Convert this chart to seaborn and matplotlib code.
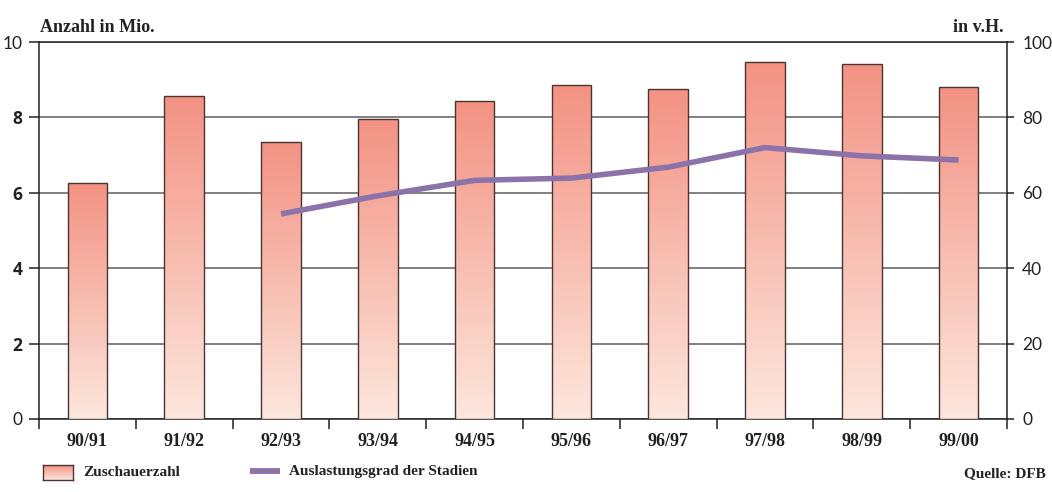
import numpy as np
import pandas as pd
import matplotlib
matplotlib.use("Agg")
import matplotlib.pyplot as plt
from matplotlib.colors import LinearSegmentedColormap
from matplotlib.lines import Line2D
import seaborn as sns

# ---- data ----
seasons = ["90/91", "91/92", "92/93", "93/94", "94/95", "95/96", "96/97", "97/98", "98/99", "99/00"]
zuschauer = [6.26, 8.57, 7.35, 7.96, 8.43, 8.86, 8.75, 9.47, 9.42, 8.81]   # Mio.
auslastung = [np.nan, np.nan, 54.4, 59.2, 63.3, 63.9, 66.8, 72.0, 69.8, 68.7]  # in v.H.
left_ticks = [0, 2, 4, 6, 8, 10]
right_ticks = [0, 20, 40, 60, 80, 100]

df = pd.DataFrame({"Saison": seasons, "Zuschauerzahl": zuschauer,
                   "Auslastung": auslastung, "pos": np.arange(len(seasons))})

sns.set_theme(style="white")
plt.rcParams["font.family"] = ["Liberation Serif", "DejaVu Sans"]

TOP_C = "#F39283"
BOT_C = "#FDE7DD"
EDGE_C = "#4a3434"
LINE_C = "#8B73A9"
grad_cmap = LinearSegmentedColormap.from_list("g", [BOT_C, TOP_C])

fig = plt.figure(figsize=(10.52, 4.92), dpi=100)
ax = fig.add_axes([0.0371, 0.1484, 0.9201, 0.7662])

sns.barplot(data=df, x="Saison", y="Zuschauerzahl", ax=ax, width=0.41,
            color=TOP_C, edgecolor=EDGE_C, linewidth=1.0, zorder=3)

# gradient fill for each bar
grad = np.linspace(1, 0, 256).reshape(-1, 1)
for p in ax.patches:
    x0, y0 = p.get_x(), p.get_y()
    w, h = p.get_width(), p.get_height()
    im = ax.imshow(grad, cmap=grad_cmap, vmin=0, vmax=1, aspect="auto",
                   extent=[x0, x0 + w, y0, y0 + h], zorder=3.5, interpolation="bicubic")
    im.set_clip_path(p)
    p.set_facecolor("none")
    p.set_zorder(4)

ax.set_xlim(-0.5, len(seasons) - 0.5)
ax.set_ylim(0, 10)
ax.set_yticks(left_ticks)
ax.yaxis.grid(True, color="#5e5e5e", linewidth=1.1, zorder=1)
ax.set_axisbelow(True)
ax.set_xlabel("")
ax.set_ylabel("")
for s in ax.spines.values():
    s.set_color("#222222")
    s.set_linewidth(1.1)

# x ticks: labels at centers, tick marks at boundaries
ax.set_xticks(np.arange(len(seasons)))
ax.set_xticklabels(seasons, fontsize=13, fontweight="bold", color="#222222")
ax.tick_params(axis="x", which="major", length=0, pad=10)
ax.set_xticks(np.arange(-0.5, len(seasons) - 0.4, 1.0), minor=True)
ax.tick_params(axis="x", which="minor", length=7, width=1.1, color="#222222", direction="out", bottom=True)

ax.tick_params(axis="y", which="major", length=7, width=1.1, color="#222222", direction="out", left=True, pad=5)
ax.set_yticklabels([str(t) for t in left_ticks], fontsize=12.5, color="#222222")
for t, lab in zip(left_ticks, ax.get_yticklabels()):
    if t not in (0, 10):
        lab.set_family(["Open Sans", "DejaVu Sans"])
        lab.set_fontweight("bold")
    else:
        lab.set_family(["Lato", "DejaVu Sans"])

# secondary axis for line
ax2 = ax.twinx()
sns.lineplot(data=df, x="pos", y="Auslastung", ax=ax2, color=LINE_C, linewidth=4.0,
             solid_capstyle="butt", zorder=5)
ax2.set_ylim(0, 100)
ax2.set_xlim(-0.5, len(seasons) - 0.5)
ax2.set_yticks(right_ticks)
ax2.set_yticklabels([str(t) for t in right_ticks], fontsize=12.5, color="#222222", family=["Lato", "DejaVu Sans"])
ax2.tick_params(axis="y", length=5, width=1.1, color="#222222", direction="out", right=True, pad=6)
ax2.set_ylabel("")
ax2.set_xlabel("")
for s in ax2.spines.values():
    s.set_visible(False)

# axis unit labels
fig.text(0.038, 0.945, "Anzahl in Mio.", fontsize=13, fontweight="bold", color="#222222", ha="left", va="center")
fig.text(0.954, 0.945, "in v.H.", fontsize=13, fontweight="bold", color="#222222", ha="right", va="center")

# legend (manual)
sw = fig.add_axes([43 / 1052, 1 - 480 / 492, 30 / 1052, 15 / 492])
sw.imshow(grad, cmap=grad_cmap, vmin=0, vmax=1, aspect="auto", extent=[0, 1, 0, 1])
sw.set_xticks([]); sw.set_yticks([])
for s in sw.spines.values():
    s.set_color(EDGE_C); s.set_linewidth(1.0)
fig.text(83 / 1052, 1 - 472 / 492, "Zuschauerzahl", fontsize=11, fontweight="bold", color="#222222", ha="left", va="center")
fig.add_artist(Line2D([250 / 1052, 280 / 1052], [1 - 471 / 492, 1 - 471 / 492], color=LINE_C, linewidth=4.2,
                      transform=fig.transFigure, solid_capstyle="butt"))
fig.text(289 / 1052, 1 - 472 / 492, "Auslastungsgrad der Stadien", fontsize=11, fontweight="bold", color="#222222",
         ha="left", va="center")
fig.text(1046 / 1052, 1 - 474 / 492, "Quelle: DFB", fontsize=11, fontweight="bold", color="#222222", ha="right", va="center")

fig.savefig("out.png", dpi=100)
